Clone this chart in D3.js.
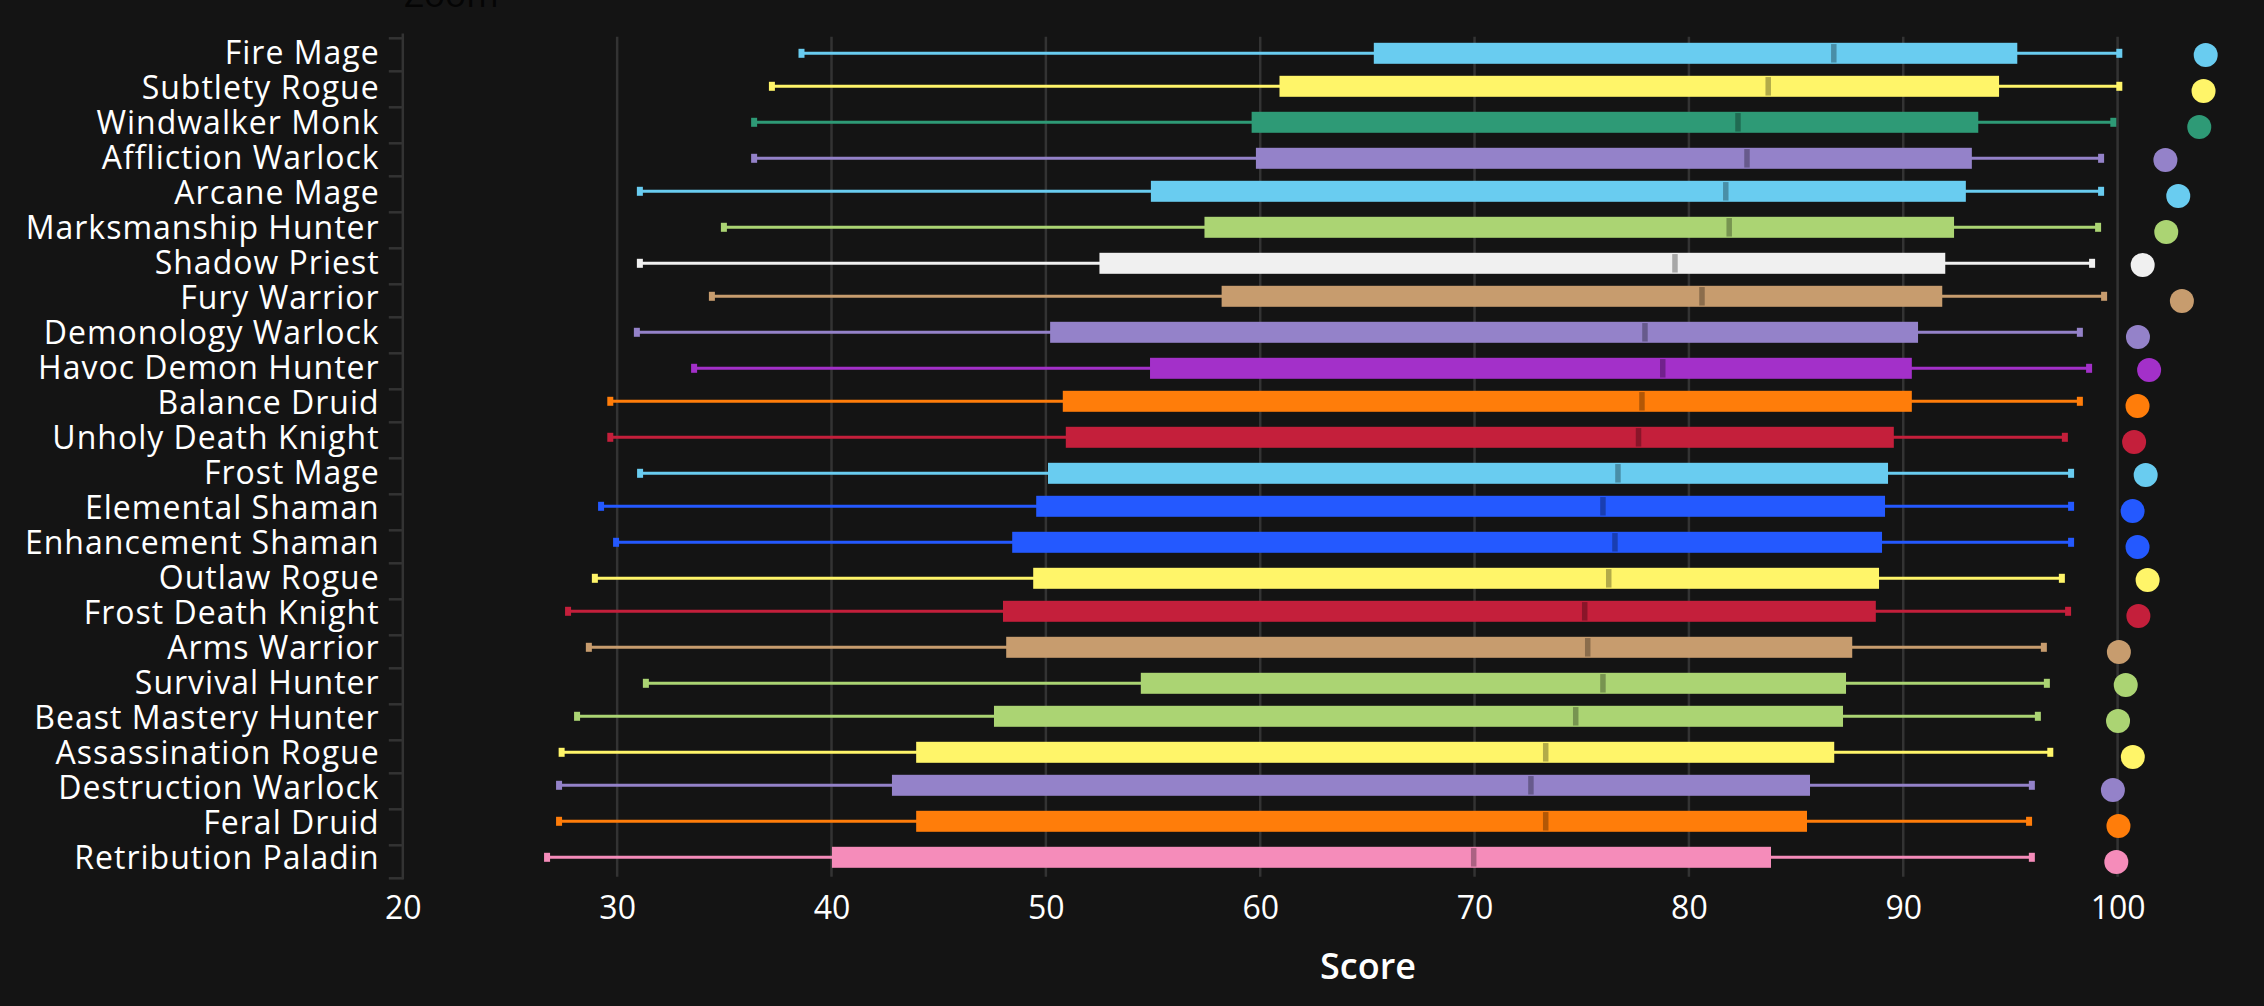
<!DOCTYPE html>
<html>
<head>
<meta charset="utf-8">
<script src="https://cdn.jsdelivr.net/npm/d3@7"></script>
<style>
  html, body { margin: 0; padding: 0; background: #141414; overflow: hidden; }
  svg { display: block; }
  text { font-family: "Open Sans", sans-serif; }
</style>
</head>
<body>
<svg id="chart" width="2264" height="1006"></svg>
<script>
const specs = ['Fire Mage', 'Subtlety Rogue', 'Windwalker Monk', 'Affliction Warlock', 'Arcane Mage',
  'Marksmanship Hunter', 'Shadow Priest', 'Fury Warrior', 'Demonology Warlock', 'Havoc Demon Hunter',
  'Balance Druid', 'Unholy Death Knight', 'Frost Mage', 'Elemental Shaman', 'Enhancement Shaman',
  'Outlaw Rogue', 'Frost Death Knight', 'Arms Warrior', 'Survival Hunter', 'Beast Mastery Hunter',
  'Assassination Rogue', 'Destruction Warlock', 'Feral Druid', 'Retribution Paladin'];

const low = [38.6, 37.22, 36.39, 36.39, 31.06, 34.98, 31.06, 34.42, 30.92, 33.59, 29.68, 29.68,
  31.07, 29.25, 29.95, 28.96, 27.71, 28.68, 31.34, 28.13, 27.41, 27.29, 27.29, 26.73];
const q1 = [65.3, 60.9, 59.6, 59.8, 54.9, 57.4, 52.5, 58.2, 50.2, 54.86, 50.79, 50.93,
  50.1, 49.55, 48.43, 49.41, 48.0, 48.15, 54.43, 47.58, 43.95, 42.82, 43.95, 40.02];
const median = [86.76, 83.7, 82.29, 82.71, 81.72, 81.88, 79.35, 80.61, 77.95, 78.78, 77.81, 77.65,
  76.69, 75.99, 76.55, 76.26, 75.14, 75.28, 75.99, 74.72, 73.32, 72.63, 73.32, 69.96];
const q3 = [95.32, 94.47, 93.5, 93.2, 92.92, 92.37, 91.96, 91.82, 90.69, 90.4, 90.4, 89.56,
  89.29, 89.15, 89.01, 88.87, 88.72, 87.62, 87.33, 87.19, 86.78, 85.65, 85.51, 83.83];
const high = [100.08, 100.08, 99.8, 99.23, 99.23, 99.09, 98.81, 99.37, 98.24, 98.67, 98.24, 97.54,
  97.83, 97.83, 97.83, 97.4, 97.69, 96.56, 96.7, 96.28, 96.86, 96.0, 95.87, 96.0];
const best = [104.11, 104.01, 103.81, 102.23, 102.83, 102.27, 101.17, 103.0, 100.95, 101.47, 100.93, 100.77,
  101.31, 100.7, 100.93, 101.4, 100.97, 100.06, 100.38, 100.02, 100.71, 99.78, 100.04, 99.94];

const xTicks = [20, 30, 40, 50, 60, 70, 80, 90, 100];

const classColors = {
  Mage: '#69ccf0', Rogue: '#fff569', Monk: '#2e9a76', Warlock: '#9482c9',
  'Demon Hunter': '#a330c9', Hunter: '#abd473',
  Priest: '#f0f0f0', Warrior: '#c79c6e', Druid: '#ff7d0a',
  'Death Knight': '#c41f3b', Shaman: '#2459ff', Paladin: '#f58cba'
};

function specColor(spec) {
  const key = Object.keys(classColors).find((c) => spec.endsWith(c));
  return classColors[key];
}

// the reference marks land on a 3px grid, so the row spacing goes 33, 36, 36
function snap(v, offset) {
  return Math.floor((v - offset) / 3) * 3 + offset;
}

const svg = d3.select('#chart');
const axisColor = '#333333';
const axisTop = 34.7;
const axisBottom = 878.3;

const x = d3.scaleLinear().domain([20, 100]).range([402.8, 2117.6]);
const yRaw = d3.scalePoint().domain(specs).range([53.7, 858.24]);
const y = (d) => snap(yRaw(d), 2.3);
// the dots sit a little lower than the boxes, and drift further down the chart
const yDotRaw = d3.scalePoint().domain(specs).range([57.04, 862.96]);
const yDot = (d) => snap(yDotRaw(d), 1);
const yLabel = d3.scalePoint().domain(specs).range([52.6, 857.6]);
const yEdge = d3.scaleLinear().domain([0, specs.length]).range([38.6, 881.6]);

// clipped title at the very top, black on nearly black
svg.append('text')
  .attr('x', 404).attr('y', 7)
  .attr('font-size', 35).attr('fill', '#050505')
  .text('Zoom');

// grid
svg.append('g').selectAll('line')
  .data(xTicks.slice(1))
  .join('line')
  .attr('x1', (d) => x(d)).attr('x2', (d) => x(d))
  .attr('y1', 36.7).attr('y2', 876.7)
  .attr('stroke', axisColor).attr('stroke-width', 2.5);

// y axis: ticks sit on the band edges
const edgeAxis = svg.append('g');
edgeAxis.append('line')
  .attr('x1', x(20)).attr('x2', x(20))
  .attr('y1', axisTop - 1.25).attr('y2', axisBottom + 1.25)
  .attr('stroke', axisColor).attr('stroke-width', 2.5);
edgeAxis.selectAll('line.tick')
  .data(d3.range(specs.length + 1))
  .join('line')
  .attr('class', 'tick')
  .attr('x1', x(20) - 14).attr('x2', x(20))
  .attr('y1', (d) => Math.min(snap(yEdge(d), 2.3), axisBottom))
  .attr('y2', (d) => Math.min(snap(yEdge(d), 2.3), axisBottom))
  .attr('stroke', axisColor).attr('stroke-width', 2.5);

const labelAxis = svg.append('g')
  .attr('transform', 'translate(379.6,0)')
  .call(d3.axisLeft(yLabel).tickSize(0).tickPadding(0));
labelAxis.select('.domain').remove();
labelAxis.selectAll('text')
  .attr('font-family', '"Open Sans", sans-serif')
  .attr('font-size', 32)
  .attr('letter-spacing', '1px')
  .attr('fill', '#ffffff')
  .attr('dy', '0.35em');

// x axis
const xAxis = svg.append('g')
  .attr('transform', 'translate(0,878)')
  .call(d3.axisBottom(x).tickValues(xTicks).tickSize(0).tickPadding(0));
xAxis.select('.domain').remove();
xAxis.selectAll('text')
  .attr('font-family', '"Open Sans", sans-serif')
  .attr('font-size', 32)
  .attr('fill', '#ffffff')
  .attr('y', 41)
  .attr('dy', 0);

svg.append('text')
  .attr('x', 1368).attr('y', 979)
  .attr('text-anchor', 'middle')
  .attr('font-size', 36).attr('font-weight', 600)
  .attr('fill', '#ffffff')
  .text('Score');

const rows = svg.append('g').selectAll('g')
  .data(specs)
  .join('g')
  .attr('fill', (d) => specColor(d));

// whisker
rows.append('line')
  .attr('x1', (d, i) => x(low[i])).attr('x2', (d, i) => x(high[i]))
  .attr('y1', (d) => y(d)).attr('y2', (d) => y(d))
  .attr('stroke', (d) => specColor(d)).attr('stroke-width', 3);

// whisker caps
rows.append('rect')
  .attr('x', (d, i) => x(low[i]) - 3).attr('y', (d) => y(d) - 4.5)
  .attr('width', 6).attr('height', 9);
rows.append('rect')
  .attr('x', (d, i) => x(high[i]) - 3).attr('y', (d) => y(d) - 4.5)
  .attr('width', 6).attr('height', 9);

// box
rows.append('rect')
  .attr('x', (d, i) => x(q1[i])).attr('y', (d) => y(d) - 10.5)
  .attr('width', (d, i) => x(q3[i]) - x(q1[i])).attr('height', 21);

// median
rows.append('rect')
  .attr('x', (d, i) => x(median[i]) - 2.75).attr('y', (d) => y(d) - 9.25)
  .attr('width', 5.5).attr('height', 18.5)
  .attr('fill', '#000000').attr('fill-opacity', 0.3);

// best score dot
rows.append('circle')
  .attr('cx', (d, i) => x(best[i])).attr('cy', (d) => yDot(d))
  .attr('r', 12);
</script>
</body>
</html>
